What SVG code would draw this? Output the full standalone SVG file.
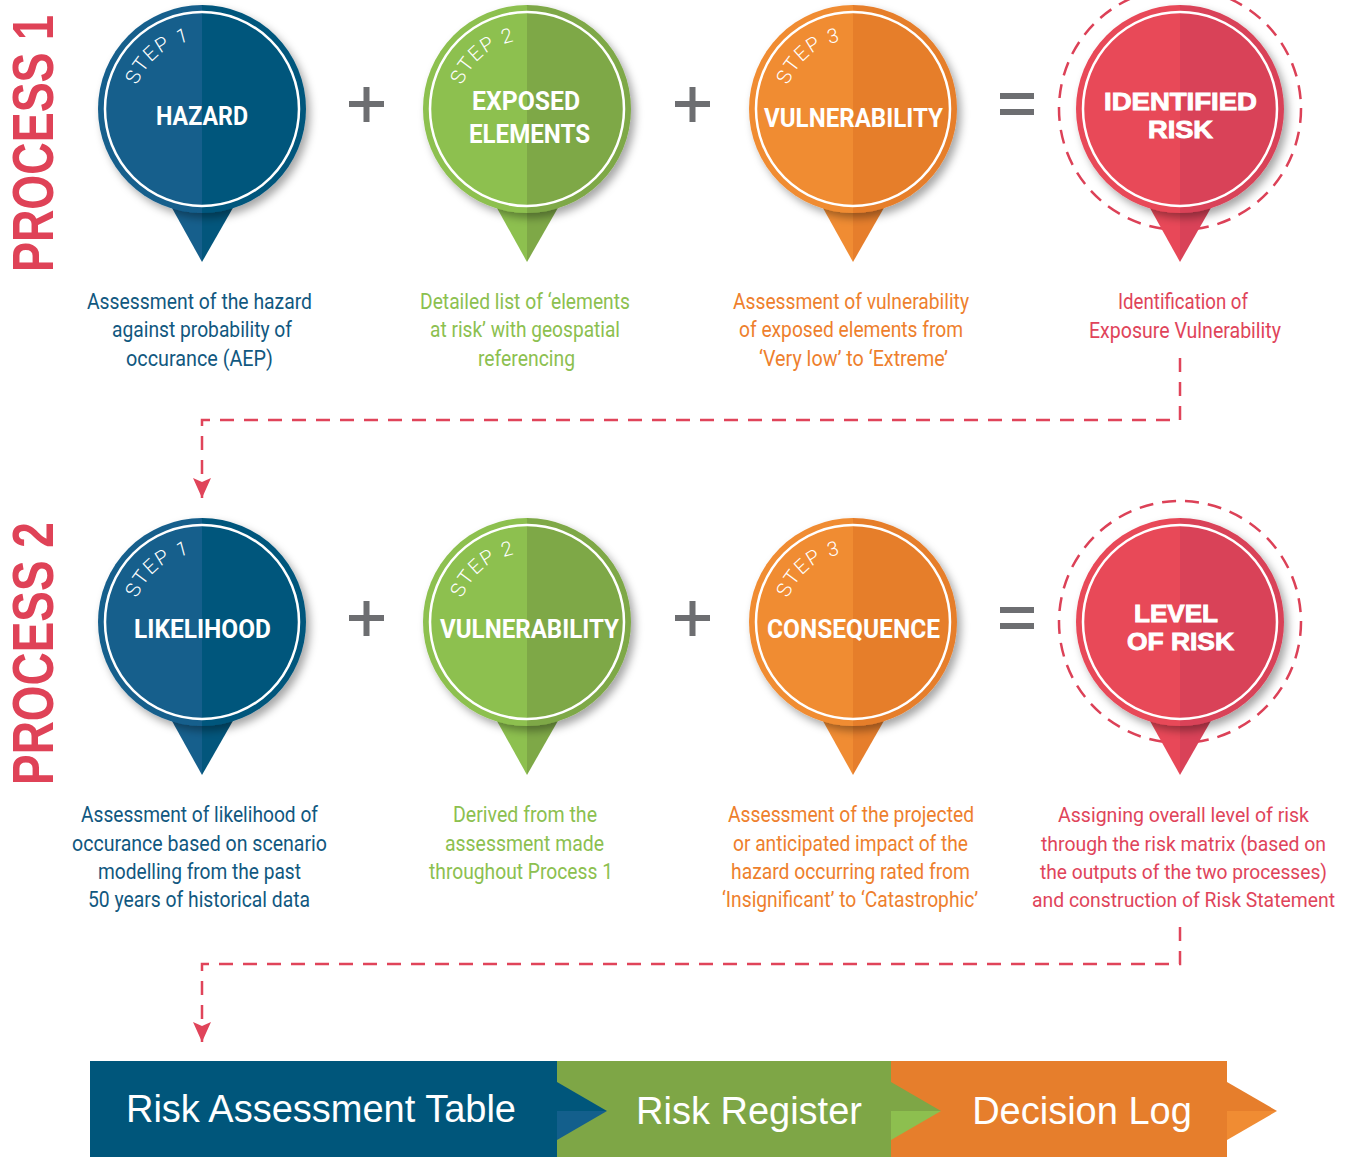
<svg xmlns="http://www.w3.org/2000/svg" xmlns:xlink="http://www.w3.org/1999/xlink" width="1352" height="1157" viewBox="0 0 1352 1157">
<style>
.bl{fill:#165f8c}.br{fill:#03567c}
.gl{fill:#8dc04f}.gr{fill:#7ea847}
.ol{fill:#f08c33}.or{fill:#e67e2c}
.rl{fill:#e84858}.rr{fill:#d94258}
.ring{fill:none;stroke:#fff;stroke-width:2.5}
.dring{fill:none;stroke:#dc4157;stroke-width:2.5;stroke-dasharray:14 9}
.step{font-family:Roboto,"Liberation Sans",sans-serif;font-weight:300;font-size:20px;fill:#fff;letter-spacing:1.5px}
.lab{font-family:Roboto,"Liberation Sans",sans-serif;font-weight:bold;font-size:26px;fill:#fff}
.lab2{font-family:"Liberation Sans",Arial,sans-serif;font-weight:bold;font-size:24px;fill:#fff;stroke:#fff;stroke-width:0.9px}
.d{font-family:Roboto,"Liberation Sans",sans-serif;font-size:22px}
.d21{font-size:21px}
.d20{font-size:20px}
.tb{fill:#11587f}.tg{fill:#8cc04f}.to{fill:#ee7f2d}.tr{fill:#e0445a}
.proc{font-family:"Liberation Sans",Arial,sans-serif;font-weight:bold;font-size:58px;fill:#df4257}
.op{fill:#6d6e71}
.conn{fill:none;stroke:#e0445a;stroke-width:2.5;stroke-dasharray:14 10}
.bar{font-family:"Liberation Sans",Arial,sans-serif;font-size:38px;fill:#fff}
</style>
<defs>
<filter id="sh" x="-20%" y="-20%" width="150%" height="150%">
<feDropShadow dx="4" dy="5" stdDeviation="4" flood-color="#000" flood-opacity="0.35"/>
</filter>
<path id="arc" d="M-64.8,-23.6 A69,69 0 0 1 23.6,-64.8"/>
<marker id="ah" viewBox="0 -10 22 20" refX="20" refY="0" markerWidth="22" markerHeight="20" markerUnits="userSpaceOnUse" orient="auto">
<path d="M0,-9 L20,0 L0,9 L4,0 Z" fill="#e0445a"/>
</marker>
</defs>
<rect width="1352" height="1157" fill="#fff"/>

<text class="proc" transform="translate(53,272) rotate(-90) scale(0.774,1)">PROCESS 1</text>
<text class="proc" transform="translate(53,785) rotate(-90) scale(0.792,1)">PROCESS 2</text>

<g id="connectors">
<path class="conn" d="M1180,358 V420 H202 V498" marker-end="url(#ah)"/>
<path class="conn" d="M1180,927 V964 H202 V1042" marker-end="url(#ah)"/>
</g>

<g id="ops" class="op">
<rect x="349" y="101" width="35" height="6"/><rect x="363.5" y="87" width="6" height="35"/>
<rect x="675" y="101" width="35" height="6"/><rect x="689.5" y="87" width="6" height="35"/>
<rect x="1000" y="93" width="34" height="6"/><rect x="1000" y="109" width="34" height="6"/>
<rect x="349" y="615" width="35" height="6"/><rect x="363.5" y="601" width="6" height="35"/>
<rect x="675" y="615" width="35" height="6"/><rect x="689.5" y="601" width="6" height="35"/>
<rect x="1000" y="607" width="34" height="6"/><rect x="1000" y="623" width="34" height="6"/>
</g>

<g id="p1-hazard" transform="translate(202,109)">
<path class="bl" d="M-35,90 L0,90 L0,153 Z"/><path class="br" d="M0,90 L36,90 L0,153 Z"/>
<g filter="url(#sh)"><path class="bl" d="M0,-104A104,104 0 0 0 0,104Z"/><path class="br" d="M0,-104A104,104 0 0 1 0,104Z"/></g>
<circle class="ring" r="97"/>
<text class="step"><textPath href="#arc" xlink:href="#arc">STEP 1</textPath></text>
</g>
<text class="lab" x="156" y="125" textLength="92" lengthAdjust="spacingAndGlyphs">HAZARD</text>

<g id="p1-exposed" transform="translate(527,109)">
<path class="gl" d="M-35,90 L0,90 L0,153 Z"/><path class="gr" d="M0,90 L36,90 L0,153 Z"/>
<g filter="url(#sh)"><path class="gl" d="M0,-104A104,104 0 0 0 0,104Z"/><path class="gr" d="M0,-104A104,104 0 0 1 0,104Z"/></g>
<circle class="ring" r="97"/>
<text class="step"><textPath href="#arc" xlink:href="#arc">STEP 2</textPath></text>
</g>
<text class="lab" x="472" y="110" textLength="108" lengthAdjust="spacingAndGlyphs">EXPOSED</text>
<text class="lab" x="469" y="143" textLength="121" lengthAdjust="spacingAndGlyphs">ELEMENTS</text>

<g id="p1-vuln" transform="translate(853,109)">
<path class="ol" d="M-35,90 L0,90 L0,153 Z"/><path class="or" d="M0,90 L36,90 L0,153 Z"/>
<g filter="url(#sh)"><path class="ol" d="M0,-104A104,104 0 0 0 0,104Z"/><path class="or" d="M0,-104A104,104 0 0 1 0,104Z"/></g>
<circle class="ring" r="97"/>
<text class="step"><textPath href="#arc" xlink:href="#arc">STEP 3</textPath></text>
</g>
<text class="lab" x="764" y="127" textLength="179" lengthAdjust="spacingAndGlyphs">VULNERABILITY</text>

<g id="p1-risk" transform="translate(1180,109)">
<circle class="dring" r="121"/>
<path class="rl" d="M-35,90 L0,90 L0,153 Z"/><path class="rr" d="M0,90 L36,90 L0,153 Z"/>
<g filter="url(#sh)"><path class="rl" d="M0,-104A104,104 0 0 0 0,104Z"/><path class="rr" d="M0,-104A104,104 0 0 1 0,104Z"/></g>
<circle class="ring" r="97"/>
</g>
<text class="lab2" x="1104" y="110" textLength="153" lengthAdjust="spacingAndGlyphs">IDENTIFIED</text>
<text class="lab2" x="1148" y="138" textLength="65" lengthAdjust="spacingAndGlyphs">RISK</text>

<g id="p2-likelihood" transform="translate(202,622)">
<path class="bl" d="M-35,90 L0,90 L0,153 Z"/><path class="br" d="M0,90 L36,90 L0,153 Z"/>
<g filter="url(#sh)"><path class="bl" d="M0,-104A104,104 0 0 0 0,104Z"/><path class="br" d="M0,-104A104,104 0 0 1 0,104Z"/></g>
<circle class="ring" r="97"/>
<text class="step"><textPath href="#arc" xlink:href="#arc">STEP 1</textPath></text>
</g>
<text class="lab" x="134" y="638" textLength="137" lengthAdjust="spacingAndGlyphs">LIKELIHOOD</text>

<g id="p2-vuln" transform="translate(527,622)">
<path class="gl" d="M-35,90 L0,90 L0,153 Z"/><path class="gr" d="M0,90 L36,90 L0,153 Z"/>
<g filter="url(#sh)"><path class="gl" d="M0,-104A104,104 0 0 0 0,104Z"/><path class="gr" d="M0,-104A104,104 0 0 1 0,104Z"/></g>
<circle class="ring" r="97"/>
<text class="step"><textPath href="#arc" xlink:href="#arc">STEP 2</textPath></text>
</g>
<text class="lab" x="440" y="638" textLength="179" lengthAdjust="spacingAndGlyphs">VULNERABILITY</text>

<g id="p2-consequence" transform="translate(853,622)">
<path class="ol" d="M-35,90 L0,90 L0,153 Z"/><path class="or" d="M0,90 L36,90 L0,153 Z"/>
<g filter="url(#sh)"><path class="ol" d="M0,-104A104,104 0 0 0 0,104Z"/><path class="or" d="M0,-104A104,104 0 0 1 0,104Z"/></g>
<circle class="ring" r="97"/>
<text class="step"><textPath href="#arc" xlink:href="#arc">STEP 3</textPath></text>
</g>
<text class="lab" x="767" y="638" textLength="173" lengthAdjust="spacingAndGlyphs">CONSEQUENCE</text>

<g id="p2-level" transform="translate(1180,622)">
<circle class="dring" r="121"/>
<path class="rl" d="M-35,90 L0,90 L0,153 Z"/><path class="rr" d="M0,90 L36,90 L0,153 Z"/>
<g filter="url(#sh)"><path class="rl" d="M0,-104A104,104 0 0 0 0,104Z"/><path class="rr" d="M0,-104A104,104 0 0 1 0,104Z"/></g>
<circle class="ring" r="97"/>
</g>
<text class="lab2" x="1134" y="622" textLength="84" lengthAdjust="spacingAndGlyphs">LEVEL</text>
<text class="lab2" x="1127" y="650" textLength="107" lengthAdjust="spacingAndGlyphs">OF RISK</text>

<g id="desc-p1" class="d">
<text class="tb" x="87" y="309" textLength="225" lengthAdjust="spacingAndGlyphs">Assessment of the hazard</text>
<text class="tb" x="112" y="337" textLength="180" lengthAdjust="spacingAndGlyphs">against probability of</text>
<text class="tb" x="126" y="366" textLength="147" lengthAdjust="spacingAndGlyphs">occurance (AEP)</text>
<text class="tg" x="420" y="309" textLength="210" lengthAdjust="spacingAndGlyphs">Detailed list of ‘elements</text>
<text class="tg" x="430" y="337" textLength="190" lengthAdjust="spacingAndGlyphs">at risk’ with geospatial</text>
<text class="tg" x="478" y="366" textLength="97" lengthAdjust="spacingAndGlyphs">referencing</text>
<text class="to" x="733" y="309" textLength="236" lengthAdjust="spacingAndGlyphs">Assessment of vulnerability</text>
<text class="to" x="739" y="337" textLength="224" lengthAdjust="spacingAndGlyphs">of exposed elements from</text>
<text class="to" x="759" y="366" textLength="189" lengthAdjust="spacingAndGlyphs">‘Very low’ to ‘Extreme’</text>
<text class="tr" x="1118" y="309" textLength="130" lengthAdjust="spacingAndGlyphs">Identification of</text>
<text class="tr" x="1089" y="338" textLength="192" lengthAdjust="spacingAndGlyphs">Exposure Vulnerability</text>
</g>

<g id="desc-p2" class="d">
<text class="tb" x="81" y="822" textLength="237" lengthAdjust="spacingAndGlyphs">Assessment of likelihood of</text>
<text class="tb" x="72" y="851" textLength="255" lengthAdjust="spacingAndGlyphs">occurance based on scenario</text>
<text class="tb" x="98" y="879" textLength="203" lengthAdjust="spacingAndGlyphs">modelling from the past</text>
<text class="tb" x="88" y="907" textLength="222" lengthAdjust="spacingAndGlyphs">50 years of historical data</text>
<text class="tg" x="453" y="822" textLength="144" lengthAdjust="spacingAndGlyphs">Derived from the</text>
<text class="tg" x="445" y="851" textLength="159" lengthAdjust="spacingAndGlyphs">assessment made</text>
<text class="tg" x="429" y="879" textLength="184" lengthAdjust="spacingAndGlyphs">throughout Process 1</text>
<text class="to" x="728" y="822" textLength="246" lengthAdjust="spacingAndGlyphs">Assessment of the projected</text>
<text class="to" x="733" y="851" textLength="235" lengthAdjust="spacingAndGlyphs">or anticipated impact of the</text>
<text class="to" x="731" y="879" textLength="239" lengthAdjust="spacingAndGlyphs">hazard occurring rated from</text>
<text class="to" x="722" y="907" textLength="256" lengthAdjust="spacingAndGlyphs">‘Insignificant’ to ‘Catastrophic’</text>
<g class="d21" text-anchor="middle">
<text class="tr" x="1183.5" y="822" textLength="251" lengthAdjust="spacingAndGlyphs">Assigning overall level of risk</text>
<text class="tr" x="1183.5" y="851" textLength="285" lengthAdjust="spacingAndGlyphs">through the risk matrix (based on</text>
<text class="tr" x="1183.5" y="879" textLength="287" lengthAdjust="spacingAndGlyphs">the outputs of the two processes)</text>
<text class="tr d20" x="1183.5" y="907" textLength="303" lengthAdjust="spacingAndGlyphs">and construction of Risk Statement</text>
</g>
</g>

<g id="bar">
<rect x="90" y="1061" width="467" height="96" fill="#00567b"/>
<rect x="557" y="1061" width="334" height="96" fill="#7ea646"/>
<rect x="891" y="1061" width="336" height="96" fill="#e67e2c"/>
<path d="M557,1082 L607,1111 L557,1111 Z" fill="#00567b"/>
<path d="M557,1111 L607,1111 L557,1140 Z" fill="#135f8c"/>
<path d="M891,1082 L941,1111 L891,1111 Z" fill="#7ea646"/>
<path d="M891,1111 L941,1111 L891,1140 Z" fill="#8dbf4f"/>
<path d="M1227,1082 L1277,1111 L1227,1111 Z" fill="#e67e2c"/>
<path d="M1227,1111 L1277,1111 L1227,1140 Z" fill="#f08c33"/>
<text class="bar" x="321" y="1122" text-anchor="middle">Risk Assessment Table</text>
<text class="bar" x="749" y="1124" text-anchor="middle">Risk Register</text>
<text class="bar" x="1082" y="1124" text-anchor="middle">Decision Log</text>
</g>
</svg>
